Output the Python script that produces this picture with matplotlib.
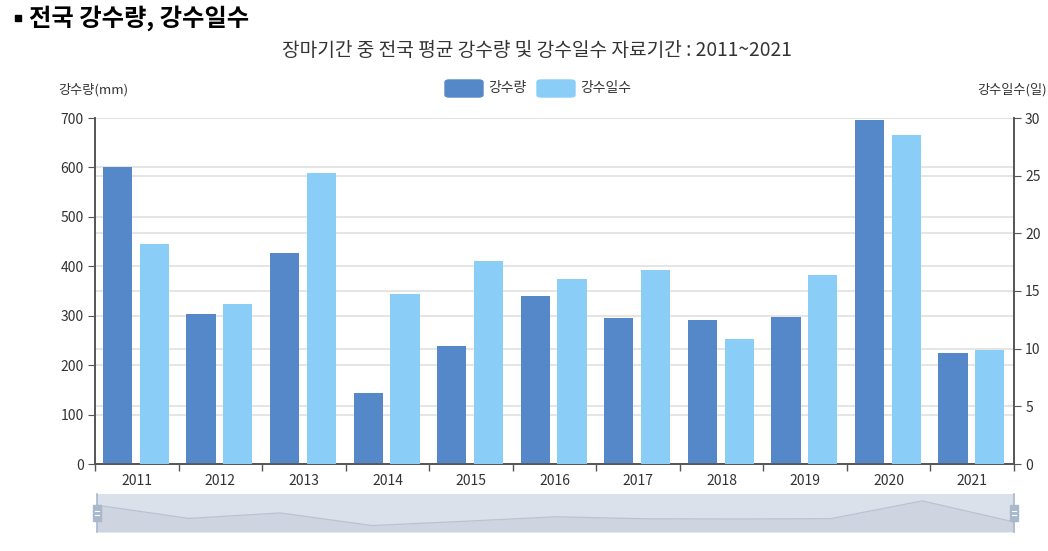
import matplotlib
matplotlib.use("Agg")
import matplotlib.pyplot as plt
import matplotlib.transforms as mtransforms
from matplotlib.patches import Rectangle, FancyBboxPatch
import numpy as np

plt.rcParams["font.family"] = ["Noto Sans CJK KR", "DejaVu Sans"]

# ── Data ───────────────────────────────────────────────────────────────
years = ["2011", "2012", "2013", "2014", "2015", "2016",
         "2017", "2018", "2019", "2020", "2021"]
rain_mm = [600, 304, 426, 144, 239, 340, 295, 291, 298, 696, 225]
rain_days = [19.1, 13.9, 25.2, 14.7, 17.6, 16.0, 16.8, 10.8, 16.4, 28.5, 9.9]
rain_ticks = [0, 100, 200, 300, 400, 500, 600, 700]
day_ticks = [0, 5, 10, 15, 20, 25, 30]

C_RAIN = "#5588c8"
C_DAYS = "#8acdf7"
C_GRID = "#e0e0e0"
C_AXIS = "#555555"
C_TEXT = "#333333"

W, H = 1048, 551
fig = plt.figure(figsize=(W / 100, H / 100), dpi=100)

L, R, T, B = 95, 1014, 118, 464
ax1 = fig.add_axes([L / W, 1 - B / H, (R - L) / W, (B - T) / H])
ax2 = ax1.twinx()

x = np.arange(len(years))
bw = 0.35
ax1.bar(x - 0.23, rain_mm, bw, color=C_RAIN, zorder=3)
ax2.bar(x + 0.21, rain_days, bw, color=C_DAYS, zorder=3)

ax1.set_xlim(-0.5, len(years) - 0.5)
ax1.set_ylim(0, 700)
ax2.set_ylim(0, 30)
ax1.set_yticks(rain_ticks)
ax2.set_yticks(day_ticks)

# grid lines for both axes, kept under the bars
for v in rain_ticks[1:]:
    ax1.axhline(v, color=C_GRID, lw=1.2, zorder=1)
blend = mtransforms.blended_transform_factory(ax1.transAxes, ax2.transData)
for v in day_ticks[1:]:
    ax1.plot([0, 1], [v, v], transform=blend, color=C_GRID, lw=1.2, zorder=1)

# x axis: ticks on category boundaries, labels at centres
ax1.set_xticks(np.arange(-0.5, len(years)), labels=[])
ax1.set_xticks(x, labels=years, minor=True)
ax1.tick_params(axis="x", which="major", length=5, color=C_AXIS, width=1)
ax1.tick_params(axis="x", which="minor", length=0, pad=7,
                labelsize=10, labelcolor=C_TEXT)
ax1.tick_params(axis="y", length=5, color=C_AXIS, labelsize=10,
                labelcolor=C_TEXT, pad=3)
ax2.tick_params(axis="y", length=5, color=C_AXIS, labelsize=10,
                labelcolor=C_TEXT, pad=3)

for ax in (ax1, ax2):
    ax.spines["top"].set_visible(False)
    for s in ("left", "right", "bottom"):
        ax.spines[s].set_color(C_AXIS)
        ax.spines[s].set_linewidth(1.2)

# ── Titles / axis names / legend ───────────────────────────────────────
fig.patches.append(Rectangle((15 / W, 1 - 21 / H), 6 / W, 6 / H,
                             transform=fig.transFigure, color="black"))
fig.text(29 / W, 1 - 18 / H, "전국 강수량, 강수일수", fontsize=17.5,
         fontweight="bold", color="black", va="center", ha="left")
fig.text(537 / W, 1 - 50 / H,
         "장마기간 중 전국 평균 강수량 및 강수일수 자료기간 : 2011~2021",
         fontsize=13.8, color=C_TEXT, va="center", ha="center")
fig.text(58 / W, 1 - 90 / H, "강수량(mm)", fontsize=9.5, color=C_TEXT,
         va="center", ha="left")
fig.text(1047 / W, 1 - 90 / H, "강수일수(일)", fontsize=9.5, color=C_TEXT,
         va="center", ha="right")

# legend: rounded swatches like the original
legend_items = [("강수량", C_RAIN, 445), ("강수일수", C_DAYS, 537)]
for label, col, lx in legend_items:
    fig.patches.append(FancyBboxPatch((lx / W, 1 - 97 / H), 38 / W, 17 / H,
                                      boxstyle="round,pad=0,rounding_size=0.004",
                                      transform=fig.transFigure, color=col))
    fig.text((lx + 43) / W, 1 - 88 / H, label, fontsize=10, color=C_TEXT,
             va="center", ha="left")

# ── Data-zoom slider ───────────────────────────────────────────────────
SL, SR, ST, SB = 97, 1014, 494, 532
ax3 = fig.add_axes([SL / W, 1 - SB / H, (SR - SL) / W, (SB - ST) / H])
ax3.set_facecolor("#dbe1eb")
ax3.fill_between(x, rain_mm, 0, color="#ced5e1", lw=0)
ax3.plot(x, rain_mm, color="#b8c3d3", lw=0.9)
ax3.set_xlim(0, len(years) - 1)
ax3.set_ylim(0, 850)
ax3.set_xticks([])
ax3.set_yticks([])
for s in ("top", "bottom"):
    ax3.spines[s].set_visible(False)
for s in ("left", "right"):
    ax3.spines[s].set_color("#a9b8cc")
    ax3.spines[s].set_linewidth(1.2)
hw = 8 / (SR - SL)
for hx in (0, 1):
    ax3.add_patch(Rectangle((hx - hw / 2, 0.28), hw, 0.44,
                            transform=ax3.transAxes, color="#a9b8cc",
                            clip_on=False, zorder=5))
    for yy in (0.45, 0.55):
        ax3.plot([hx - hw * 0.25, hx + hw * 0.25], [yy, yy],
                 transform=ax3.transAxes, color="white", lw=0.8,
                 clip_on=False, zorder=6)

fig.savefig("out.png", dpi=100)
